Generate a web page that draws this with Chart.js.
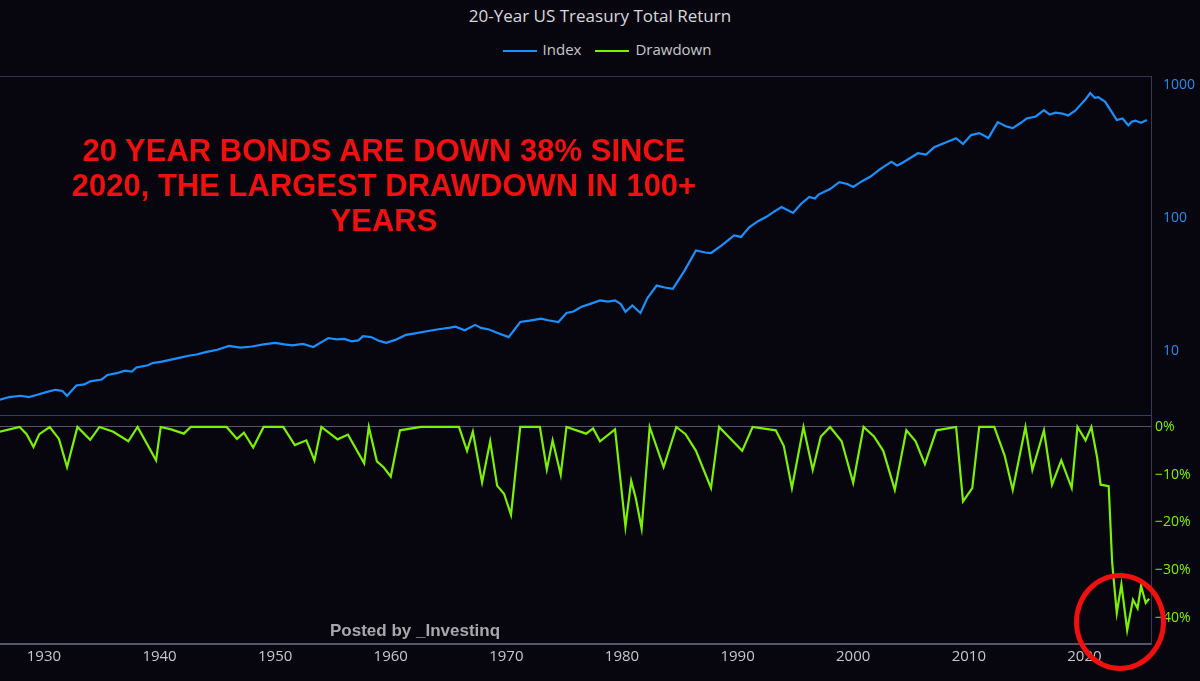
<!DOCTYPE html>
<html>
<head>
<meta charset="utf-8">
<script src="https://cdn.jsdelivr.net/npm/chart.js@4.4.0/dist/chart.umd.min.js"></script>
<style>
  html, body { margin: 0; padding: 0; background: #07060f; }
  #wrap { position: relative; width: 1200px; height: 681px; overflow: hidden; font-family: "Open Sans", "DejaVu Sans", sans-serif; }
  #title { position: absolute; top: 4px; left: 0; width: 1200px; text-align: center; color: #d8d8dc; font-size: 17px; }
  #legend { position: absolute; top: 39px; left: 0; width: 1200px; text-align: center; color: #c8c8cc; font-size: 15px; }
  #legend span.sw { display: inline-block; width: 34px; height: 2px; vertical-align: middle; margin: 0 6px 0 14px; }
  #top { position: absolute; left: 0; top: 76px; }
  #bottom { position: absolute; left: 0; top: 416px; }
  .rule { position: absolute; left: 0; width: 1151px; height: 1px; background: #34344c; }
  #note { position: absolute; top: 133px; left: 34px; width: 700px; text-align: center; color: #f01010; font: bold 31px "Liberation Sans", Arial, sans-serif; line-height: 35px; }
  #posted { position: absolute; top: 621px; left: 330px; color: #a8a8ac; font: bold 17px "Liberation Sans", Arial, sans-serif; }
  #ring { position: absolute; left: 1074px; top: 573px; width: 82px; height: 88px; border: 5px solid #f01010; border-radius: 50%; }
</style>
</head>
<body>
<div id="wrap">
  <div id="title">20-Year US Treasury Total Return</div>
  <div id="legend"><span class="sw" style="background:#1e8fff"></span>Index<span class="sw" style="background:#7cf000"></span>Drawdown</div>
  <canvas id="top" width="1200" height="340"></canvas>
  <canvas id="bottom" width="1200" height="254"></canvas>
  <div class="rule" style="top:76px"></div>
  <div class="rule" style="top:415px; background:#3a3a66"></div>
  <div id="note">20 YEAR BONDS ARE DOWN 38% SINCE<br>2020, THE LARGEST DRAWDOWN IN 100+<br>YEARS</div>
  <div id="posted">Posted by _Investinq</div>
  <div id="ring"></div>
</div>
<script>
// Index (log scale)
const indexYears = [1926.2, 1927, 1928, 1928.7, 1929.5, 1930.2, 1931, 1931.6, 1932, 1932.8, 1933.5, 1934, 1935, 1935.5, 1936.3, 1937, 1937.6, 1938, 1939, 1939.4, 1940.2, 1941, 1941.8, 1942.5, 1943.2, 1944, 1945, 1946, 1947, 1948, 1949, 1950, 1950.8, 1951.5, 1952.4, 1953.3, 1954.6, 1955.3, 1956, 1956.6, 1957.2, 1957.6, 1958.3, 1959, 1959.6, 1960.4, 1961.3, 1962, 1963, 1964, 1965, 1965.6, 1966.4, 1967.3, 1967.8, 1968.5, 1969.3, 1970.2, 1971.2, 1972, 1973, 1973.6, 1974.5, 1975.2, 1975.8, 1976.5, 1977.2, 1978.1, 1978.8, 1979.4, 1979.9, 1980.3, 1980.9, 1981.6, 1982.2, 1983, 1983.7, 1984.4, 1985.4, 1986.4, 1987.2, 1987.7, 1988.6, 1989.7, 1990.3, 1991, 1991.8, 1992.5, 1993.2, 1993.8, 1994.8, 1995.5, 1996.2, 1996.7, 1997, 1998, 1998.8, 1999.5, 2000, 2000.8, 2001.5, 2002.3, 2003.3, 2003.8, 2004.2, 2005, 2005.6, 2006.3, 2007, 2008, 2008.9, 2009.5, 2010.2, 2010.9, 2011.7, 2012.5, 2013.2, 2013.8, 2014.5, 2015, 2015.8, 2016.5, 2017, 2017.5, 2018.1, 2018.6, 2019.2, 2019.6, 2020.1, 2020.5, 2020.9, 2021.2, 2021.8, 2022.3, 2022.8, 2023.3, 2023.8, 2024.1, 2024.4, 2024.9, 2025.4];
const indexValues = [4.3, 4.5, 4.6, 4.5, 4.7, 4.9, 5.1, 5.0, 4.6, 5.5, 5.6, 5.9, 6.1, 6.6, 6.8, 7.1, 7.0, 7.5, 7.8, 8.1, 8.3, 8.6, 8.9, 9.2, 9.4, 9.8, 10.2, 10.9, 10.6, 10.8, 11.2, 11.5, 11.2, 11.0, 11.3, 10.7, 12.5, 12.2, 12.3, 11.8, 12.0, 12.9, 12.7, 11.9, 11.5, 12.1, 13.2, 13.5, 14.0, 14.5, 14.9, 15.2, 14.3, 15.7, 14.9, 14.5, 13.6, 12.7, 16.5, 16.9, 17.5, 17.0, 16.5, 19.3, 19.8, 21.5, 22.5, 24, 23.5, 24, 22.5, 19.7, 22, 19.3, 25, 31, 30, 29.3, 40, 57, 55, 54.5, 62, 74, 72, 85, 95, 102, 112, 121, 109, 128, 144, 140, 150, 165, 186, 180, 171, 190, 205, 232, 264, 248, 258, 285, 307, 300, 340, 370, 398, 360, 420, 435, 400, 526, 490, 474, 520, 560, 580, 646, 600, 620, 610, 590, 640, 700, 780, 870, 800, 810, 748, 640, 545, 560, 498, 530, 540, 520, 545];

// Drawdown (%)
const ddYears = [1926.2, 1927.9, 1928.5, 1929.1, 1929.6, 1930.5, 1931.3, 1932, 1932.9, 1934, 1934.8, 1936, 1937.3, 1938.1, 1939.7, 1940.1, 1941, 1942.1, 1942.7, 1945.8, 1946.7, 1947.3, 1948.1, 1949, 1950.7, 1951.7, 1952.7, 1953.4, 1954, 1955.4, 1956.3, 1957.7, 1958.1, 1958.8, 1959.4, 1960, 1960.8, 1962.6, 1965.9, 1966.6, 1967.1, 1967.9, 1968.6, 1969.2, 1969.8, 1970.4, 1971.2, 1972.9, 1973.5, 1974, 1974.7, 1975.2, 1976.9, 1977.5, 1978.1, 1979.4, 1980.3, 1980.8, 1981.2, 1981.7, 1982.4, 1983.6, 1984.7, 1985.5, 1986.4, 1987.7, 1988.4, 1990.4, 1991.3, 1993.3, 1994, 1994.7, 1995.7, 1996.5, 1997.2, 1998, 1999, 2000, 2000.9, 2001.8, 2002.6, 2003.6, 2004.6, 2005.4, 2006.2, 2007.2, 2008.9, 2009.5, 2010.3, 2010.9, 2012.2, 2013.1, 2013.8, 2014.9, 2015.5, 2016.5, 2017.2, 2018, 2018.9, 2019.4, 2020.1, 2020.6, 2021.1, 2021.4, 2022.1, 2022.4, 2022.8, 2023.2, 2023.7, 2024.2, 2024.6, 2024.9, 2025.3, 2025.6];
const ddValues = [-1, 0, -1.5, -4.2, -1.5, 0, -2.5, -8.4, 0, -2.7, 0, -1, -3, 0, -7, 0, -0.5, -1.4, 0, 0, -2.5, -1.2, -4.3, 0, 0, -3.8, -2.8, -7, 0, -2.6, -1.6, -7.6, 0, -7.2, -8.5, -10.4, -0.7, 0, 0, -5, -1, -11.6, -3, -12.3, -14, -18.4, 0, 0, -8.9, -2.8, -10, 0, -1.4, -0.3, -3, -0.5, -20.9, -11.3, -15, -21.3, 0, -8.4, 0, -1.5, -5, -12.8, 0, -5, 0, -0.7, -4, -12.8, 0, -9, -2, 0, -3, -11.7, 0, -2, -5, -13.2, -0.7, -3, -7.8, -0.7, 0, -15.6, -12.8, 0, 0, -6, -13.2, 0, -9, -0.7, -12.1, -7, -12.8, 0, -2.8, 0, -6.4, -12.1, -12.4, -28.4, -39, -33, -42.6, -36.2, -38, -33.3, -36.9, -36];

const xMin = 1926.2, xMax = 2025.76;
const xTickLabels = [1930, 1940, 1950, 1960, 1970, 1980, 1990, 2000, 2010, 2020];
const indexTicks = [10, 100, 1000];
const ddTicks = [0, -10, -20, -30, -40];

// fixed right axis, no extra padding for edge labels
const fitY = s => { s.width = 49; s.paddingTop = 0; s.paddingBottom = 0; };
const fitX = s => { s.paddingLeft = 0; s.paddingRight = 0; };

new Chart(document.getElementById('top'), {
  type: 'line',
  data: { datasets: [{ data: indexYears.map((x, i) => ({ x: x, y: indexValues[i] })), borderColor: '#1e8fff', borderWidth: 2.2, pointRadius: 0, tension: 0 }] },
  options: {
    responsive: false, animation: false,
    layout: { padding: 0 },
    plugins: { legend: { display: false }, tooltip: { enabled: false } },
    scales: {
      x: { type: 'linear', min: xMin, max: xMax, display: false },
      y: {
        type: 'logarithmic', position: 'right', min: 3.24, max: 1169,
        afterFit: fitY,
        afterBuildTicks: s => { s.ticks = indexTicks.map(v => ({ value: v })); },
        ticks: { color: '#2a8cf0', font: { size: 14, family: 'Open Sans' }, padding: 4, callback: v => String(v) },
        grid: { display: false },
        border: { color: '#3a3a55' }
      }
    }
  }
});

new Chart(document.getElementById('bottom'), {
  type: 'line',
  data: { datasets: [{ data: ddYears.map((x, i) => ({ x: x, y: ddValues[i] })), borderColor: '#7cf000', borderWidth: 2.2, pointRadius: 0, tension: 0 }] },
  options: {
    responsive: false, animation: false,
    layout: { padding: 0 },
    plugins: { legend: { display: false }, tooltip: { enabled: false } },
    scales: {
      x: {
        type: 'linear', min: xMin, max: xMax,
        afterFit: fitX,
        afterBuildTicks: s => { s.ticks = xTickLabels.map(v => ({ value: v })); },
        ticks: { color: '#c8c8cc', font: { size: 15, family: 'Open Sans' }, padding: 4, maxRotation: 0, callback: v => String(v) },
        grid: { display: false, drawTicks: false },
        border: { color: '#55556a', width: 2 }
      },
      y: {
        position: 'right', min: -45.5, max: 2.3,
        afterFit: fitY,
        afterBuildTicks: s => { s.ticks = ddTicks.map(v => ({ value: v })); },
        ticks: { color: '#7cf000', font: { size: 14, family: 'Open Sans' }, padding: 4, callback: v => (v === 0 ? '0%' : '\u2212' + Math.abs(v) + '%') },
        grid: { color: c => (c.tick && c.tick.value === 0 ? '#55556a' : 'transparent'), drawTicks: false },
        border: { color: '#3a3a55' }
      }
    }
  }
});
</script>
</body>
</html>
